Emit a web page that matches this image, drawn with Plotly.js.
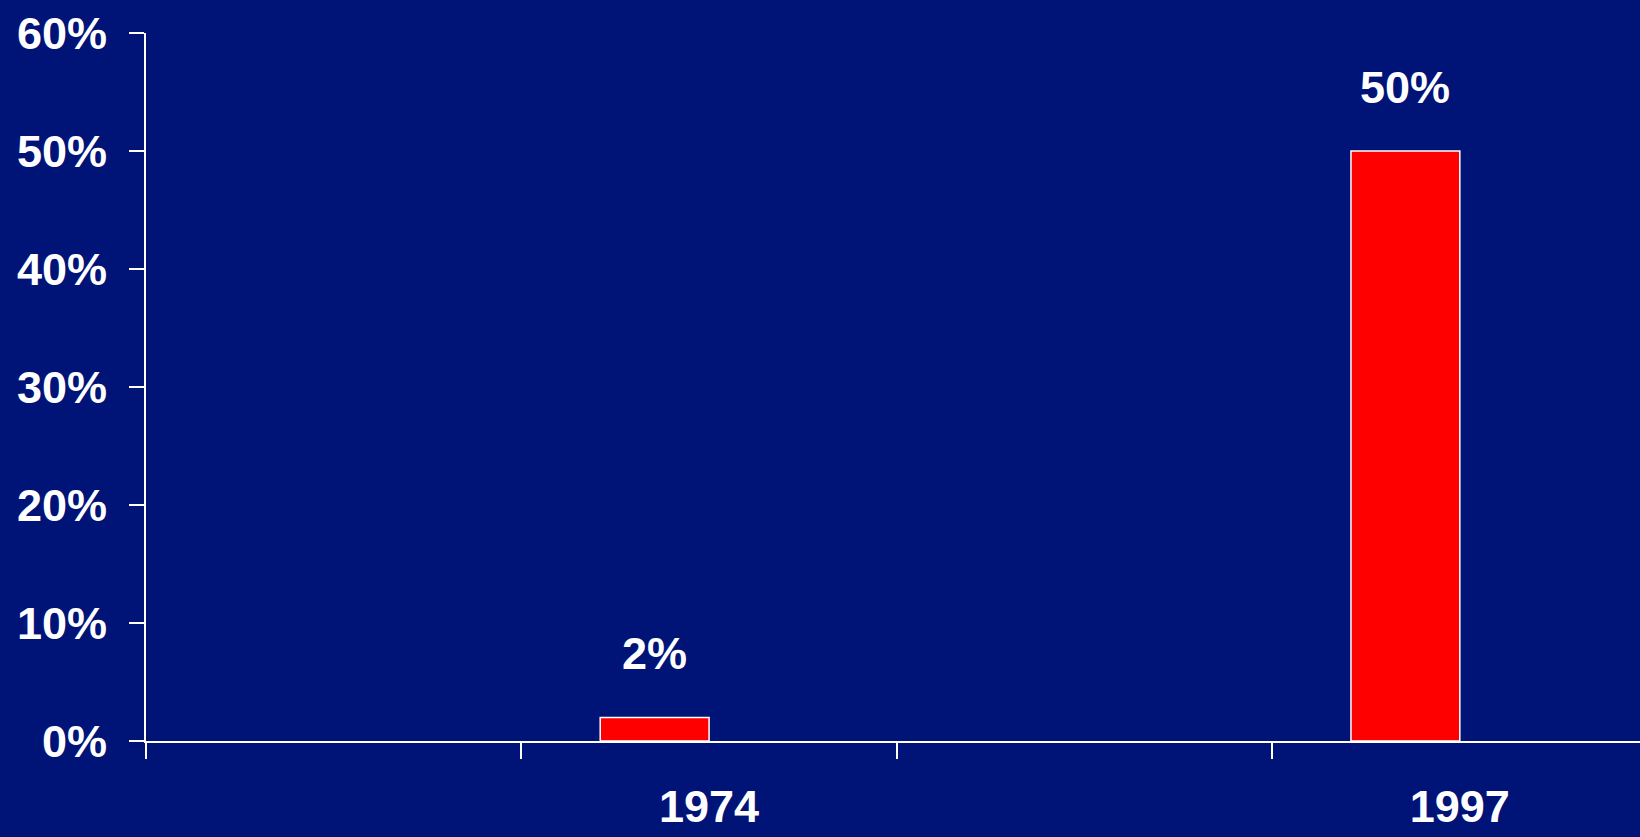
<!DOCTYPE html>
<html>
<head>
<meta charset="utf-8">
<script src="https://cdn.plot.ly/plotly-3.0.1.min.js"></script>
<style>
  html, body { margin: 0; padding: 0; background: #001478; }
  #chart { width: 1640px; height: 837px; }
</style>
</head>
<body>
<div id="chart"></div>
<script>
// Data
const slots = [" ", "1974", "  ", "1997"];   // category slots on the x axis (blank slots are spacers)
const years = ["1974", "1997"];
const shares = [2, 50];                      // percent
const yTickVals = [0, 10, 20, 30, 40, 50, 60];

const BG = "#001478";
const FONT = "'Liberation Sans', Arial, sans-serif";
const FS = 45;
const barWidth = 0.29;

const trace = {
  type: "bar",
  x: years,
  y: shares,
  width: barWidth,
  offset: -barWidth,
  marker: { color: "#FF0000", line: { color: "#FFFFFF", width: 1.5 } },
  hoverinfo: "skip"
};

const annotations = years.map((yr, i) => ({
  x: slots.indexOf(yr) - barWidth / 2,
  y: shares[i],
  xref: "x", yref: "y",
  text: "<b>" + shares[i] + "%</b>",
  showarrow: false,
  xanchor: "center",
  yanchor: "bottom",
  yshift: 36,
  font: { family: FONT, size: FS, color: "#FFFFFF" }
}));

const layout = {
  width: 1640,
  height: 837,
  margin: { l: 146, r: 0, t: 33, b: 96, pad: 0 },
  paper_bgcolor: BG,
  plot_bgcolor: BG,
  showlegend: false,
  font: { family: FONT, color: "#FFFFFF" },
  xaxis: {
    type: "category",
    categoryorder: "array",
    categoryarray: slots,
    range: [-0.5, 3.48],
    tickson: "boundaries",
    ticks: "outside",
    ticklen: 16,
    tickwidth: 2,
    tickcolor: "#FFFFFF",
    showline: true,
    linecolor: "#FFFFFF",
    linewidth: 2,
    showgrid: false,
    zeroline: false,
    ticklabelstandoff: 25,
    tickfont: { family: FONT, size: FS, color: "#FFFFFF", weight: "bold" },
    fixedrange: true
  },
  yaxis: {
    range: [0, 60],
    tickvals: yTickVals,
    ticktext: yTickVals.map(v => v + "%"),
    ticks: "outside",
    ticklen: 15,
    tickwidth: 2,
    tickcolor: "#FFFFFF",
    showline: true,
    linecolor: "#FFFFFF",
    linewidth: 2,
    showgrid: false,
    zeroline: false,
    ticklabelstandoff: 13,
    tickfont: { family: FONT, size: FS, color: "#FFFFFF", weight: "bold" },
    fixedrange: true
  },
  annotations: annotations
};

Plotly.newPlot("chart", [trace], layout, { displayModeBar: false, staticPlot: true });
</script>
</body>
</html>
